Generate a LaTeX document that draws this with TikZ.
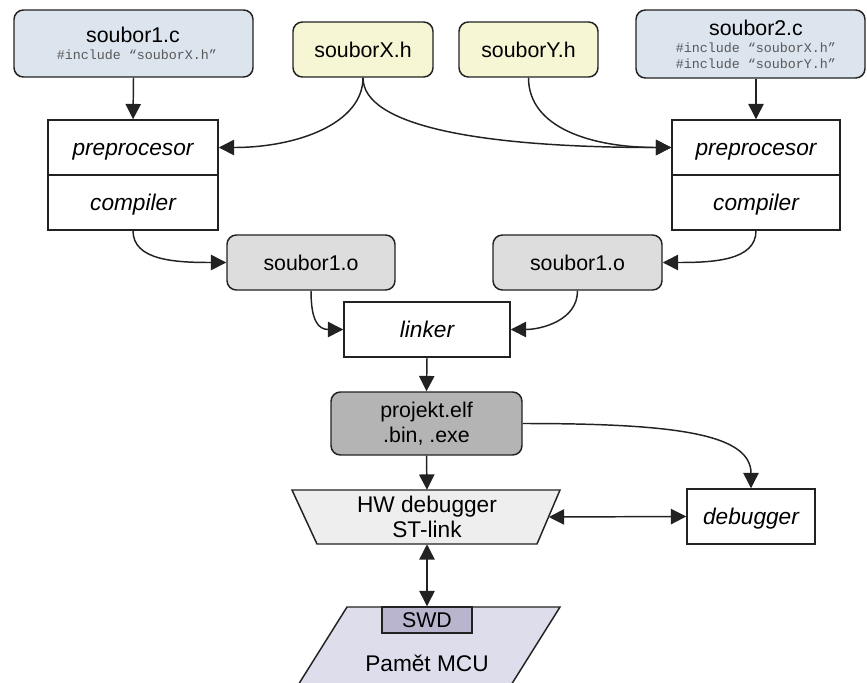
\documentclass[tikz,border=0pt]{standalone}
\usepackage{fontspec}
\setmainfont{Liberation Sans}
\newfontfamily\monof{Liberation Mono}
\usetikzlibrary{arrows.meta}
\definecolor{cfill}{HTML}{DCE4EE}
\definecolor{hfill}{HTML}{F6F6D4}
\definecolor{ofill}{HTML}{DDDDDD}
\definecolor{pfill}{HTML}{B4B4B4}
\definecolor{hwfill}{HTML}{EEEEEE}
\definecolor{mcufill}{HTML}{DDDDEB}
\definecolor{swdfill}{HTML}{B9B5CE}
\definecolor{edge}{HTML}{222222}
\definecolor{incl}{HTML}{585858}
\begin{document}
\begin{tikzpicture}[x=0.75pt,y=-0.75pt,
  every node/.style={font=\fontsize{16}{18.5}\selectfont, text=black, inner sep=0pt, align=center},
  ln/.style={line width=1.1pt, draw=edge},
  arr/.style={ln,-{Triangle[length=11.5pt,width=11.5pt]}},
  darr/.style={ln,{Triangle[length=11.5pt,width=11.5pt]}-{Triangle[length=11.5pt,width=11.5pt]}},
  rbox/.style={draw=edge, line width=1.1pt, rounded corners=7pt},
  sbox/.style={draw=edge, line width=1.1pt, fill=white, text height=13pt, text depth=0.5pt, font=\fontsize{17}{19}\selectfont\itshape},
  bigtext/.style={font=\fontsize{17}{19}\selectfont},
  incltext/.style={font=\monof\fontsize{10}{12}\selectfont, text=incl},
  plain/.style={}
]
\useasboundingbox (0,0) rectangle (867,682);

% source files
\node[rbox, fill=cfill, minimum width=179.25pt, minimum height=50.25pt] (s1) at (133.5,43.5) {};
\node[plain] (s1t) at (133,35) {soubor1.c};
\node[incltext] (s1i) at (137,55) {\#include “souborX.h”};

\node[rbox, fill=cfill, minimum width=171.75pt, minimum height=51pt] (s2) at (750.5,44) {};
\node[plain] (s2t) at (756,28) {soubor2.c};
\node[incltext] (s2i) at (756,55.5) {\#include “souborX.h”\\\#include “souborY.h”};

\node[rbox, fill=hfill, minimum width=105pt, minimum height=41.25pt] (sx) at (363,49.5) {souborX.h};
\node[rbox, fill=hfill, minimum width=104.25pt, minimum height=41.25pt] (sy) at (528.5,49.5) {souborY.h};

% preprocessor / compiler
\node[sbox, minimum width=127.5pt, minimum height=41.25pt] (pre1) at (133,147.5) {preprocesor};
\node[sbox, minimum width=127.5pt, minimum height=41.25pt] (comp1) at (133,202.5) {compiler};
\node[sbox, minimum width=126pt, minimum height=41.25pt] (pre2) at (756,147.5) {preprocesor};
\node[sbox, minimum width=126pt, minimum height=41.25pt] (comp2) at (756,202.5) {compiler};

% object files
\node[rbox, fill=ofill, minimum width=126pt, minimum height=41.25pt] (o1) at (311,262.5) {soubor1.o};
\node[rbox, fill=ofill, minimum width=126.75pt, minimum height=41.25pt] (o2) at (577.5,262.5) {soubor1.o};

\node[sbox, minimum width=124.5pt, minimum height=41.25pt] (lnk) at (427,329.5) {linker};

\node[rbox, fill=pfill, minimum width=143.25pt, minimum height=47.25pt] (prj) at (426.5,423.5) {projekt.elf\\.bin, .exe};

% HW debugger trapezium
\draw[ln, fill=hwfill] (292,490) -- (560,490) -- (537,544) -- (317,544) -- cycle;
\node[bigtext, minimum width=182.25pt, minimum height=40.5pt] (hw) at (427,517) {HW debugger\\ST-link};

\node[sbox, minimum width=96pt, minimum height=41.25pt] (dbg) at (751,516.5) {debugger};

% MCU
\begin{scope}
\clip (0,0) rectangle (867,682);
\draw[ln, fill=mcufill] (347,607) -- (560,607) -- (501.7,700) -- (288.7,700) -- cycle;
\end{scope}
\node[draw=edge, line width=1.1pt, fill=swdfill, minimum width=67.5pt, minimum height=19.5pt] (swd) at (427,620) {SWD};
\node[bigtext] (mcu) at (427,663) {Pamět MCU};

% connectors
\draw[arr] (s1.south) -- (pre1.north);
\draw[arr] (pre2.north |- s2.south) -- (pre2.north);
\draw[arr] (sx.south) .. controls +(0,45) and +(80,0) .. (pre1.east);
\draw[arr] (sx.south) .. controls +(0,48) and +(-192,0) .. (pre2.west);
\draw[arr] (sy.south) .. controls +(0,50) and +(-80,0) .. (pre2.west);
\draw[arr] (comp1.south) .. controls +(0,30) and +(-50,0) .. (o1.west);
\draw[arr] (comp2.south) .. controls +(0,30) and +(50,0) .. (o2.east);
\draw[arr] (o1.south) .. controls +(0,30) and +(-25,0) .. (lnk.west);
\draw[arr] (o2.south) .. controls +(0,30) and +(30,0) .. (lnk.east);
\draw[arr] (lnk.south) -- (prj.north);
\draw[arr] (prj.south) -- (hw.north);
\draw[arr] (prj.east) .. controls +(150,0) and +(0,-55) .. (dbg.north);
\draw[darr] (hw.east) -- (dbg.west);
\draw[darr] (hw.south) -- (swd.north);
\end{tikzpicture}
\end{document}
